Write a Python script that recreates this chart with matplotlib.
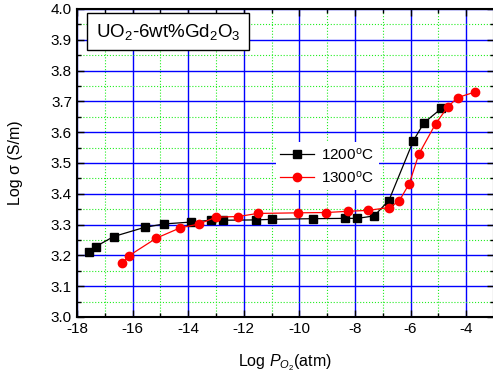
import matplotlib
matplotlib.use("Agg")
import matplotlib.pyplot as plt
from matplotlib.ticker import MultipleLocator

plt.rcParams['font.family'] = ['Liberation Sans', 'DejaVu Sans']
plt.rcParams['axes.unicode_minus'] = False
plt.rcParams['mathtext.fontset'] = 'custom'
plt.rcParams['mathtext.rm'] = 'Liberation Sans'
plt.rcParams['mathtext.it'] = 'Liberation Sans:italic'

# Log P_O2 (atm) and Log sigma (S/m)
logp_1200 = [-17.57, -17.33, -16.68, -15.56, -14.86, -13.90, -13.18, -12.76, -11.56,
             -10.97, -9.51, -8.35, -7.92, -7.31, -6.78, -5.90, -5.52, -4.89]
sigma_1200 = [3.211, 3.228, 3.261, 3.291, 3.302, 3.308, 3.314, 3.314, 3.315,
              3.317, 3.319, 3.320, 3.320, 3.328, 3.378, 3.572, 3.630, 3.677]

logp_1300 = [-16.39, -16.14, -15.14, -14.29, -13.60, -13.00, -12.20, -11.50, -10.04,
             -9.03, -8.25, -7.53, -6.78, -6.42, -6.05, -5.70, -5.10, -4.66, -4.31, -3.69]
sigma_1300 = [3.174, 3.198, 3.256, 3.289, 3.302, 3.324, 3.326, 3.336, 3.338,
              3.339, 3.343, 3.346, 3.355, 3.375, 3.432, 3.529, 3.627, 3.682, 3.712, 3.730]

fig = plt.figure(figsize=(4.93, 3.87), dpi=100)
ax = fig.add_axes([0.156, 0.181, 0.846, 0.796])

ax.plot(logp_1200, sigma_1200, '-s', color='black', lw=0.9, ms=5.5, label='1200$^{\\rm o}$C', zorder=3)
ax.plot(logp_1300, sigma_1300, '-o', color='red', lw=0.9, ms=6, label='1300$^{\\rm o}$C', zorder=3)

ax.set_xlim(-18, -3)
ax.set_ylim(3.0, 4.0)
ax.xaxis.set_major_locator(MultipleLocator(2))
ax.xaxis.set_minor_locator(MultipleLocator(1))
ax.yaxis.set_major_locator(MultipleLocator(0.1))
ax.yaxis.set_minor_locator(MultipleLocator(0.05))
ax.yaxis.set_major_formatter(plt.FormatStrFormatter('%.1f'))

ax.grid(which='major', color='#0000ff', lw=1.0, ls='-', zorder=1)
ax.grid(which='minor', color='#22ee22', lw=0.8, ls=':', zorder=1)
ax.set_axisbelow(True)

ax.tick_params(which='both', direction='in', top=True, right=True, labelsize=11)
ax.tick_params(which='major', length=5, width=1)
ax.tick_params(which='minor', length=3, width=1)
for sp in ax.spines.values():
    sp.set_linewidth(1.5)

ax.set_xlabel('Log $\\mathit{P}_{\\mathit{O_2}}$(atm)', fontsize=11.5, labelpad=12)
ax.set_ylabel('Log σ (S/m)', fontsize=11.5, labelpad=20)

ax.text(0.045, 0.958, 'UO$_2$-6wt%Gd$_2$O$_3$', transform=ax.transAxes, fontsize=13.5,
        va='top', ha='left',
        bbox=dict(boxstyle='square,pad=0.45', fc='white', ec='black', lw=1))

leg = ax.legend(loc='center', bbox_to_anchor=(0.60, 0.49), frameon=True, fontsize=11,
                handlelength=2.2, borderpad=0.3, labelspacing=0.5, handletextpad=0.5)
leg.get_frame().set_edgecolor('none')
leg.get_frame().set_facecolor('white')
leg.get_frame().set_alpha(1)

fig.savefig('out.png', dpi=100)
